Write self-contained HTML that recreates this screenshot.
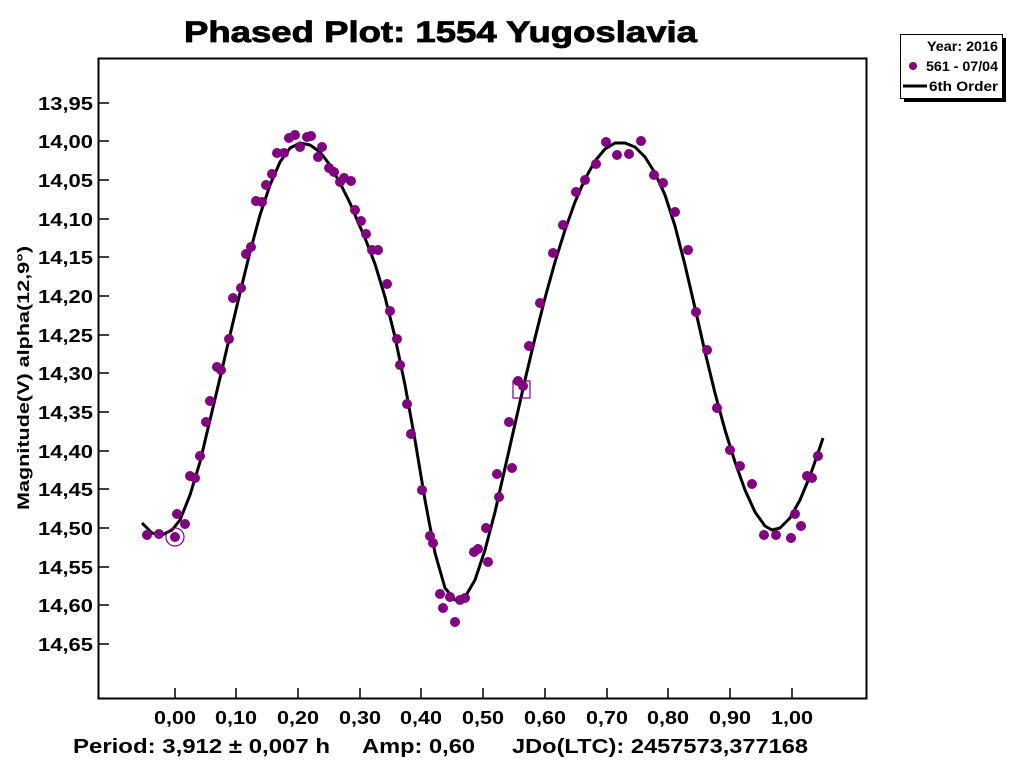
<!DOCTYPE html>
<html><head><meta charset="utf-8"><style>
body{margin:0;background:#fff;}
svg{display:block;font-family:"Liberation Sans",sans-serif;font-weight:bold;}
</style></head><body>
<svg width="1024" height="768" viewBox="0 0 1024 768">
<rect width="1024" height="768" fill="#fff"/>
<text x="184" y="42" font-size="30" textLength="513" lengthAdjust="spacingAndGlyphs" stroke="#000" stroke-width="0.8">Phased Plot: 1554 Yugoslavia</text>
<rect x="98.5" y="58.5" width="768" height="640" fill="none" stroke="#000" stroke-width="2"/>
<g stroke="#000" stroke-width="1.5">
<line x1="99" y1="103" x2="109" y2="103"/><line x1="99" y1="141" x2="109" y2="141"/>
<line x1="99" y1="180" x2="109" y2="180"/><line x1="99" y1="219" x2="109" y2="219"/>
<line x1="99" y1="257" x2="109" y2="257"/><line x1="99" y1="296" x2="109" y2="296"/>
<line x1="99" y1="335" x2="109" y2="335"/><line x1="99" y1="373" x2="109" y2="373"/>
<line x1="99" y1="412" x2="109" y2="412"/><line x1="99" y1="451" x2="109" y2="451"/>
<line x1="99" y1="489" x2="109" y2="489"/><line x1="99" y1="528" x2="109" y2="528"/>
<line x1="99" y1="567" x2="109" y2="567"/><line x1="99" y1="605" x2="109" y2="605"/>
<line x1="99" y1="644" x2="109" y2="644"/>
<line x1="175" y1="698" x2="175" y2="688"/><line x1="236" y1="698" x2="236" y2="688"/>
<line x1="298" y1="698" x2="298" y2="688"/><line x1="360" y1="698" x2="360" y2="688"/>
<line x1="421" y1="698" x2="421" y2="688"/><line x1="483" y1="698" x2="483" y2="688"/>
<line x1="545" y1="698" x2="545" y2="688"/><line x1="607" y1="698" x2="607" y2="688"/>
<line x1="668" y1="698" x2="668" y2="688"/><line x1="730" y1="698" x2="730" y2="688"/>
<line x1="792" y1="698" x2="792" y2="688"/>
</g>
<g font-size="18">
<text x="38" y="110" textLength="55" lengthAdjust="spacingAndGlyphs">13,95</text>
<text x="38" y="148" textLength="55" lengthAdjust="spacingAndGlyphs">14,00</text>
<text x="38" y="187" textLength="55" lengthAdjust="spacingAndGlyphs">14,05</text>
<text x="38" y="226" textLength="55" lengthAdjust="spacingAndGlyphs">14,10</text>
<text x="38" y="264" textLength="55" lengthAdjust="spacingAndGlyphs">14,15</text>
<text x="38" y="303" textLength="55" lengthAdjust="spacingAndGlyphs">14,20</text>
<text x="38" y="342" textLength="55" lengthAdjust="spacingAndGlyphs">14,25</text>
<text x="38" y="380" textLength="55" lengthAdjust="spacingAndGlyphs">14,30</text>
<text x="38" y="419" textLength="55" lengthAdjust="spacingAndGlyphs">14,35</text>
<text x="38" y="458" textLength="55" lengthAdjust="spacingAndGlyphs">14,40</text>
<text x="38" y="496" textLength="55" lengthAdjust="spacingAndGlyphs">14,45</text>
<text x="38" y="535" textLength="55" lengthAdjust="spacingAndGlyphs">14,50</text>
<text x="38" y="574" textLength="55" lengthAdjust="spacingAndGlyphs">14,55</text>
<text x="38" y="612" textLength="55" lengthAdjust="spacingAndGlyphs">14,60</text>
<text x="38" y="651" textLength="55" lengthAdjust="spacingAndGlyphs">14,65</text>
</g>
<g font-size="18">
<text x="154" y="724" textLength="42" lengthAdjust="spacingAndGlyphs">0,00</text>
<text x="215" y="724" textLength="42" lengthAdjust="spacingAndGlyphs">0,10</text>
<text x="277" y="724" textLength="42" lengthAdjust="spacingAndGlyphs">0,20</text>
<text x="339" y="724" textLength="42" lengthAdjust="spacingAndGlyphs">0,30</text>
<text x="400" y="724" textLength="42" lengthAdjust="spacingAndGlyphs">0,40</text>
<text x="462" y="724" textLength="42" lengthAdjust="spacingAndGlyphs">0,50</text>
<text x="524" y="724" textLength="42" lengthAdjust="spacingAndGlyphs">0,60</text>
<text x="586" y="724" textLength="42" lengthAdjust="spacingAndGlyphs">0,70</text>
<text x="647" y="724" textLength="42" lengthAdjust="spacingAndGlyphs">0,80</text>
<text x="709" y="724" textLength="42" lengthAdjust="spacingAndGlyphs">0,90</text>
<text x="771" y="724" textLength="42" lengthAdjust="spacingAndGlyphs">1,00</text>
</g>
<text x="29" y="378" font-size="17" text-anchor="middle" textLength="264" lengthAdjust="spacingAndGlyphs" transform="rotate(-90 29 378)">Magnitude(V) alpha(12,9°)</text>
<g font-size="20">
<text x="73" y="753" textLength="257" lengthAdjust="spacingAndGlyphs">Period: 3,912 ± 0,007 h</text>
<text x="362" y="753" textLength="113" lengthAdjust="spacingAndGlyphs">Amp: 0,60</text>
<text x="512" y="753" textLength="296" lengthAdjust="spacingAndGlyphs">JDo(LTC): 2457573,377168</text>
</g>
<polyline fill="none" stroke="#000" stroke-width="3" stroke-linejoin="round" points="142,523 152,533 162,535 172,530 180,520 190,495 200,462 210,420 220,378 230,335 240,293 250,252 260,215 270,185 280,162 290,148 300,143 310,145 320,152 330,165 340,183 350,203 358,222 365,238 375,264 385,297 395,337 405,385 415,440 425,500 435,553 445,588 455,600 465,597 475,580 485,550 495,512 505,468 515,424 525,380 535,338 545,298 555,262 565,230 575,202 585,179 595,161 605,149 615,143 625,143 635,147 645,157 655,173 665,195 675,226 685,265 695,308 705,352 715,393 725,430 735,462 745,490 755,512 765,526 772,530 780,528 790,518 800,500 810,476 818,453 823,438"/>
<g fill="#800080" stroke="#800080" stroke-width="1">
<circle cx="147" cy="535" r="4.5"/><circle cx="159" cy="534" r="4.5"/><circle cx="175" cy="537" r="4.5"/>
<circle cx="177" cy="514" r="4.5"/><circle cx="185" cy="524" r="4.5"/><circle cx="190" cy="476" r="4.5"/>
<circle cx="195" cy="478" r="4.5"/><circle cx="200" cy="456" r="4.5"/><circle cx="206" cy="422" r="4.5"/>
<circle cx="210" cy="401" r="4.5"/><circle cx="217" cy="367" r="4.5"/><circle cx="221" cy="370" r="4.5"/>
<circle cx="229" cy="339" r="4.5"/><circle cx="233" cy="298" r="4.5"/><circle cx="241" cy="288" r="4.5"/>
<circle cx="246" cy="254" r="4.5"/><circle cx="251" cy="247" r="4.5"/><circle cx="256" cy="201" r="4.5"/>
<circle cx="262" cy="202" r="4.5"/><circle cx="266" cy="185" r="4.5"/><circle cx="272" cy="174" r="4.5"/>
<circle cx="277" cy="153" r="4.5"/><circle cx="284" cy="153" r="4.5"/><circle cx="289" cy="138" r="4.5"/>
<circle cx="295" cy="135" r="4.5"/><circle cx="300" cy="147" r="4.5"/><circle cx="307" cy="137" r="4.5"/>
<circle cx="311" cy="136" r="4.5"/><circle cx="318" cy="157" r="4.5"/><circle cx="322" cy="147" r="4.5"/>
<circle cx="329" cy="168" r="4.5"/><circle cx="334" cy="172" r="4.5"/><circle cx="340" cy="182" r="4.5"/>
<circle cx="344" cy="178" r="4.5"/><circle cx="351" cy="181" r="4.5"/><circle cx="355" cy="210" r="4.5"/>
<circle cx="361" cy="221" r="4.5"/><circle cx="366" cy="234" r="4.5"/><circle cx="372" cy="250" r="4.5"/>
<circle cx="378" cy="250" r="4.5"/><circle cx="387" cy="284" r="4.5"/><circle cx="390" cy="311" r="4.5"/>
<circle cx="397" cy="339" r="4.5"/><circle cx="400" cy="365" r="4.5"/><circle cx="407" cy="404" r="4.5"/>
<circle cx="411" cy="434" r="4.5"/><circle cx="422" cy="490" r="4.5"/><circle cx="430" cy="536" r="4.5"/>
<circle cx="433" cy="543" r="4.5"/><circle cx="440" cy="594" r="4.5"/><circle cx="443" cy="608" r="4.5"/>
<circle cx="450" cy="597" r="4.5"/><circle cx="455" cy="622" r="4.5"/><circle cx="460" cy="600" r="4.5"/>
<circle cx="465" cy="598" r="4.5"/><circle cx="474" cy="552" r="4.5"/><circle cx="478" cy="549" r="4.5"/>
<circle cx="486" cy="528" r="4.5"/><circle cx="488" cy="562" r="4.5"/><circle cx="497" cy="474" r="4.5"/>
<circle cx="499" cy="497" r="4.5"/><circle cx="509" cy="422" r="4.5"/><circle cx="512" cy="468" r="4.5"/>
<circle cx="518" cy="381" r="4.5"/><circle cx="523" cy="386" r="4.5"/><circle cx="529" cy="346" r="4.5"/>
<circle cx="540" cy="303" r="4.5"/><circle cx="553" cy="253" r="4.5"/><circle cx="563" cy="225" r="4.5"/>
<circle cx="576" cy="192" r="4.5"/><circle cx="585" cy="180" r="4.5"/><circle cx="596" cy="164" r="4.5"/>
<circle cx="606" cy="142" r="4.5"/><circle cx="617" cy="155" r="4.5"/><circle cx="629" cy="154" r="4.5"/>
<circle cx="641" cy="141" r="4.5"/><circle cx="654" cy="175" r="4.5"/><circle cx="663" cy="183" r="4.5"/>
<circle cx="675" cy="212" r="4.5"/><circle cx="688" cy="250" r="4.5"/><circle cx="696" cy="312" r="4.5"/>
<circle cx="707" cy="350" r="4.5"/><circle cx="717" cy="408" r="4.5"/><circle cx="730" cy="450" r="4.5"/>
<circle cx="740" cy="466" r="4.5"/><circle cx="752" cy="484" r="4.5"/><circle cx="764" cy="535" r="4.5"/>
<circle cx="776" cy="535" r="4.5"/><circle cx="791" cy="538" r="4.5"/><circle cx="795" cy="514" r="4.5"/>
<circle cx="801" cy="526" r="4.5"/><circle cx="807" cy="476" r="4.5"/><circle cx="812" cy="478" r="4.5"/>
<circle cx="818" cy="456" r="4.5"/>
</g>
<circle cx="175" cy="537" r="9" fill="none" stroke="#800080" stroke-width="1.2"/>
<rect x="513" y="381" width="17" height="17" fill="none" stroke="#800080" stroke-width="1.2"/>
<rect x="904" y="38" width="102" height="64" fill="#000"/>
<rect x="900.5" y="34.5" width="102" height="64" fill="#fff" stroke="#000" stroke-width="1"/>
<g font-size="14">
<text x="927" y="51" textLength="71" lengthAdjust="spacingAndGlyphs">Year: 2016</text>
<text x="926" y="71" textLength="72" lengthAdjust="spacingAndGlyphs">561 - 07/04</text>
<text x="929" y="91" textLength="69" lengthAdjust="spacingAndGlyphs">6th Order</text>
</g>
<circle cx="913" cy="66" r="4" fill="#800080"/>
<line x1="903" y1="86" x2="927" y2="86" stroke="#000" stroke-width="3"/>
</svg>
</body></html>
